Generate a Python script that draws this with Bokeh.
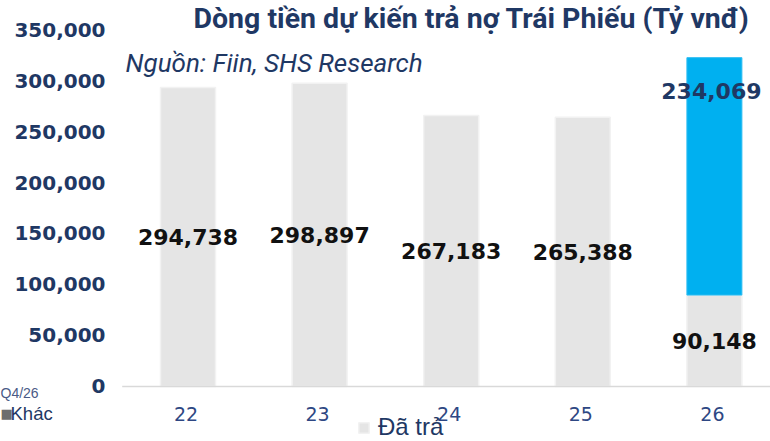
from bokeh.plotting import figure
from bokeh.models import (ColumnDataSource, Range1d, LabelSet, Label, Legend, LegendItem)
from bokeh.core.properties import value
from bokeh.embed import file_html
from bokeh.resources import INLINE

# ---- data ----
years = ["22", "23", "24", "25", "26"]
da_tra = [294738, 298897, 267183, 265388, 90148]      # paid (grey)
du_kien = [0, 0, 0, 0, 234069]                         # expected (blue)
y_ticks = [0, 50000, 100000, 150000, 200000, 250000, 300000, 350000]

title_text = "Dòng tiền dự kiến trả nợ Trái Phiếu (Tỷ vnđ)"
source_text = "Nguồn: Fiin, SHS Research"
legend_text = "Đã trả"

NAVY = "#1F3864"
GREY = "#E5E5E5"
BLUE = "#00B0F0"
NUMFONT = "DejaVu Sans"

W, H = 770, 441
idx = list(range(len(years)))
tops = [a + b for a, b in zip(da_tra, du_kien)]
grey_src = ColumnDataSource(dict(x=idx, top=da_tra, mid=[v / 2 for v in da_tra],
                                 lab=[f"{v:,}" for v in da_tra]))
blue_x = [i for i, v in zip(idx, du_kien) if v > 0]
blue_src = ColumnDataSource(dict(
    x=blue_x,
    bottom=[da_tra[i] for i in blue_x],
    top=[tops[i] for i in blue_x],
    lab=[f"{du_kien[i]:,}" for i in blue_x]))
ytick_src = ColumnDataSource(dict(y=y_ticks, lab=[f"{t:,}" for t in y_ticks]))
xtick_src = ColumnDataSource(dict(x=idx, lab=years))

# plot area covers the whole canvas; axes are drawn as labels
p = figure(width=W, height=H, output_backend="svg", toolbar_location=None,
           x_axis_type=None, y_axis_type=None,
           x_range=Range1d(-1.4248, 4.4263), y_range=Range1d(-54225, 380563),
           min_border_left=0, min_border_right=0, min_border_top=0,
           min_border_bottom=0)
p.outline_line_color = None
p.background_fill_color = "white"
p.border_fill_color = "white"
p.xgrid.visible = False
p.ygrid.visible = False

grey = p.vbar(x="x", top="top", bottom=0, width=0.418, source=grey_src,
              fill_color=GREY, line_color="#F2F2F2", line_width=1.5)
p.vbar(x="x", top="top", bottom="bottom", width=0.418, source=blue_src,
       fill_color=BLUE, line_color="#2EBDF2", line_width=1.0)

# category axis base line
p.segment(x0=idx[0] - 0.5, x1=idx[-1] + 0.5, y0=0, y1=0,
          line_color="#D9D9D9", line_width=1.5)

# y tick labels
p.add_layout(LabelSet(x=105, y="y", x_units="screen", text="lab", source=ytick_src,
                      y_offset=1, text_align="right", text_baseline="middle",
                      text_font=value(NUMFONT), text_font_style="bold",
                      text_font_size="20px", text_color=NAVY))
# x tick labels
p.add_layout(LabelSet(x="x", y=28, y_units="screen", text="lab", source=xtick_src,
                      x_offset=-2, text_align="center", text_baseline="middle",
                      text_font=value(NUMFONT), text_font_size="19px",
                      text_color="#2E4783"))

# data labels
p.add_layout(LabelSet(x="x", y="mid", text="lab", source=grey_src,
                      text_align="center", text_baseline="middle",
                      text_font=value(NUMFONT), text_font_style="bold",
                      text_font_size="22px", text_color="#111111"))
p.add_layout(LabelSet(x="x", y="top", text="lab", source=blue_src, y_offset=-33,
                      x_offset=-3, text_align="center", text_baseline="middle",
                      text_font=value(NUMFONT), text_font_style="bold",
                      text_font_size="22px", text_color=NAVY))

# title / source
p.add_layout(Label(x=471, y=423, x_units="screen", y_units="screen", text=title_text,
                   text_align="center", text_baseline="middle", text_font="Roboto",
                   text_font_style="bold", text_font_size="28.5px", text_color=NAVY))
p.add_layout(Label(x=125, y=379, x_units="screen", y_units="screen", text=source_text,
                   text_align="left", text_baseline="middle", text_font="Roboto",
                   text_font_style="italic", text_font_size="26px", text_color=NAVY))

# neighbouring chart remnants at left edge
p.add_layout(Label(x=0, y=49, x_units="screen", y_units="screen", text="Q4/26",
                   text_align="left", text_baseline="middle", text_font="Liberation Sans",
                   text_font_size="14px", text_color="#4A5A86"))
p.add_layout(Label(x=0, y=28, x_units="screen", y_units="screen", text="■",
                   text_align="left", text_baseline="middle", text_font=NUMFONT,
                   text_font_size="13px", text_color="#6D6D6D"))
p.add_layout(Label(x=10, y=28, x_units="screen", y_units="screen", text="Khác",
                   text_align="left", text_baseline="middle", text_font="Liberation Sans",
                   text_font_size="18.5px", text_color=NAVY))

legend = Legend(items=[LegendItem(label=legend_text, renderers=[grey])],
                location=(357, 0), orientation="horizontal",
                glyph_width=13, glyph_height=13, label_standoff=8,
                label_text_font="Liberation Sans", label_text_font_size="24px",
                label_text_color=NAVY, border_line_color=None,
                background_fill_alpha=0, padding=0, margin=0, spacing=0)
p.add_layout(legend)

open("out.html", "w").write(file_html(p, INLINE))
